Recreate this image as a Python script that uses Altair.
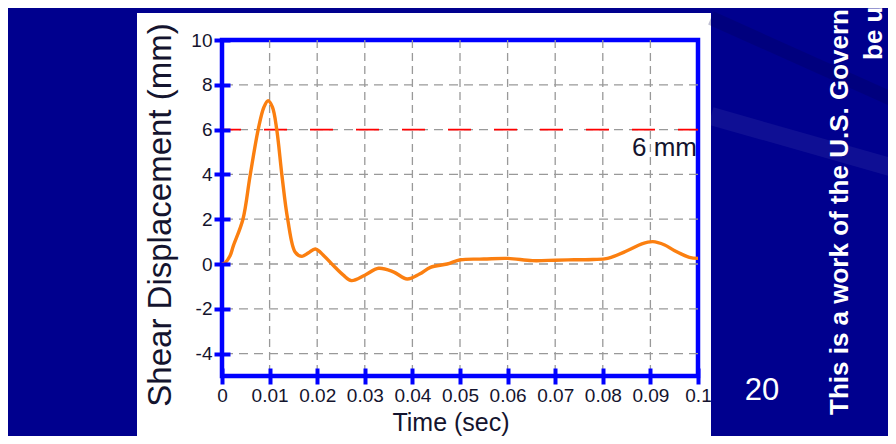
import altair as alt
import pandas as pd

# ---- data ----
time_s = [0, 0.0007, 0.0017, 0.0024, 0.0044, 0.0059, 0.0076, 0.0088, 0.0097, 0.0106, 0.0115,
          0.0126, 0.0138, 0.0154, 0.0168, 0.0182, 0.0196, 0.0215, 0.0234, 0.0255, 0.0272,
          0.030, 0.0329, 0.036, 0.0389, 0.0415, 0.0438, 0.0473, 0.0501, 0.055, 0.060,
          0.0652, 0.070, 0.074, 0.078, 0.081, 0.0852, 0.0882, 0.0905, 0.093, 0.095,
          0.0982, 0.1]
disp_mm = [0, 0.07, 0.37, 0.82, 2.0, 3.94, 6.0, 7.0, 7.29, 7.0, 6.0,
           3.94, 2.0, 0.52, 0.34, 0.5, 0.67, 0.35, -0.07, -0.5, -0.74,
           -0.5, -0.19, -0.35, -0.67, -0.45, -0.15, 0.0, 0.19, 0.22, 0.25,
           0.15, 0.17, 0.19, 0.2, 0.25, 0.6, 0.9, 1.0, 0.85, 0.6,
           0.3, 0.25]
x_ticks = [0, 0.01, 0.02, 0.03, 0.04, 0.05, 0.06, 0.07, 0.08, 0.09, 0.1]
y_ticks = [-4, -2, 0, 2, 4, 6, 8, 10]
x_grid = [0.01, 0.02, 0.03, 0.04, 0.05, 0.06, 0.07, 0.08, 0.09]
y_grid = [-4, -2, 0, 2, 4, 6, 8]
threshold_mm = [6]
threshold_text = ["6 mm"]
x_title = "Time (sec)"
y_title = "Shear Displacement (mm)"
slide_number = "20"
footer_line1 = "This is a work of the U.S. Government"
footer_line2 = "be used"

BLUE_BG = "#00008e"
AXIS_BLUE = "#0000ff"
TXT = "#14142e"
FONT = "Liberation Sans"

xs = alt.Scale(domain=[0, 0.1], nice=False, zero=False)
ys = alt.Scale(domain=[-5, 10], nice=False, zero=False)

curve_df = pd.DataFrame({"t": time_s, "d": disp_mm})
one = pd.DataFrame({"k": [0]})

axis_common = dict(title=None, offset=-8, tickSize=16, tickWidth=4, tickColor=AXIS_BLUE,
                   domain=False, grid=False, labelFontSize=19, labelFont=FONT,
                   labelColor=TXT, labelOverlap=False, labelFlush=False, labelPadding=2,
                   zindex=1, labelExpr="'' + datum.value")
x_axis = alt.Axis(values=x_ticks, **axis_common)
y_axis = alt.Axis(values=y_ticks, **axis_common)

# ---- decorations: slide background around the white panel ----
def rect(x1, x2, y1, y2, color=BLUE_BG, opacity=1.0):
    return alt.Chart(one).mark_rect(color=color, opacity=opacity).encode(
        x=alt.value(x1), x2=alt.value(x2), y=alt.value(y1), y2=alt.value(y2))

bg_left = rect(-214, -85, -32, 396)
bg_top = rect(-85, 489, -32, -27)
bg_right = rect(489, 666, -32, 396)
streak = alt.Chart(one).mark_rule(color="#ffffff", opacity=0.06, strokeWidth=18).encode(
    x=alt.value(489), y=alt.value(76), x2=alt.value(672), y2=alt.value(128))
streak2 = alt.Chart(one).mark_rule(color="#000050", opacity=0.25, strokeWidth=14).encode(
    x=alt.value(489), y=alt.value(-22), x2=alt.value(672), y2=alt.value(60))

# ---- grid ----
vgrid = alt.Chart(pd.DataFrame({"t": x_grid})).mark_rule(
    color="#999999", strokeDash=[8, 5], strokeWidth=1.3
).encode(x=alt.X("t:Q", scale=xs, axis=x_axis))
hgrid = alt.Chart(pd.DataFrame({"d": y_grid})).mark_rule(
    color="#999999", strokeDash=[9, 6], strokeWidth=1.3
).encode(y=alt.Y("d:Q", scale=ys, axis=y_axis))

# ---- threshold ----
thr_df = pd.DataFrame({"t": [0.1], "d": threshold_mm, "lab": threshold_text})
thr_line = alt.Chart(thr_df).mark_rule(
    color="#ff0000", strokeDash=[23, 23], strokeDashOffset=3, strokeWidth=1.6
).encode(y=alt.Y("d:Q", scale=ys, axis=y_axis))
thr_text = alt.Chart(thr_df).mark_text(
    align="right", baseline="alphabetic", fontSize=26, font=FONT, color=TXT, dx=-1, dy=26
).encode(x=alt.X("t:Q", scale=xs, axis=x_axis), y=alt.Y("d:Q", scale=ys, axis=y_axis), text="lab:N")

# ---- curve ----
curve = alt.Chart(curve_df).mark_line(
    color="#fb7f10", strokeWidth=3.4, interpolate="catmull-rom"
).encode(
    x=alt.X("t:Q", scale=xs, axis=x_axis),
    y=alt.Y("d:Q", scale=ys, axis=y_axis),
)

# ---- titles and slide text ----
ytitle = alt.Chart(one).mark_text(
    text=y_title, angle=270, align="center", baseline="alphabetic", fontSize=33, font=FONT, color=TXT
).encode(x=alt.value(-51), y=alt.value(175))
xtitle = alt.Chart(one).mark_text(
    text=x_title, align="center", baseline="alphabetic", fontSize=25, font=FONT, color=TXT
).encode(x=alt.value(229), y=alt.value(391))

num = alt.Chart(one).mark_text(
    text=slide_number, align="center", baseline="alphabetic", fontSize=31, font=FONT, color="#ffffff"
).encode(x=alt.value(540), y=alt.value(360))

foot1 = alt.Chart(one).mark_text(
    text=footer_line1, angle=270, align="left", baseline="alphabetic", fontSize=26,
    font=FONT, fontWeight="bold", color="#ffffff"
).encode(x=alt.value(626), y=alt.value(375))
foot2 = alt.Chart(one).mark_text(
    text=footer_line2, angle=270, align="left", baseline="alphabetic", fontSize=26,
    font=FONT, fontWeight="bold", color="#ffffff"
).encode(x=alt.value(660), y=alt.value(20))

chart = alt.layer(
    bg_left, bg_top, bg_right, streak, streak2, vgrid, hgrid, thr_line, curve, thr_text,
    ytitle, xtitle, num, foot1, foot2
).properties(
    width=476, height=336,
    autosize=alt.AutoSizeParams(type="none"),
    padding={"left": 214, "top": 32, "right": 190, "bottom": 60},
    background="#ffffff",
).configure_view(stroke=AXIS_BLUE, strokeWidth=4.5)

chart.save("out.html", embed_options={"renderer": "svg", "actions": False})
